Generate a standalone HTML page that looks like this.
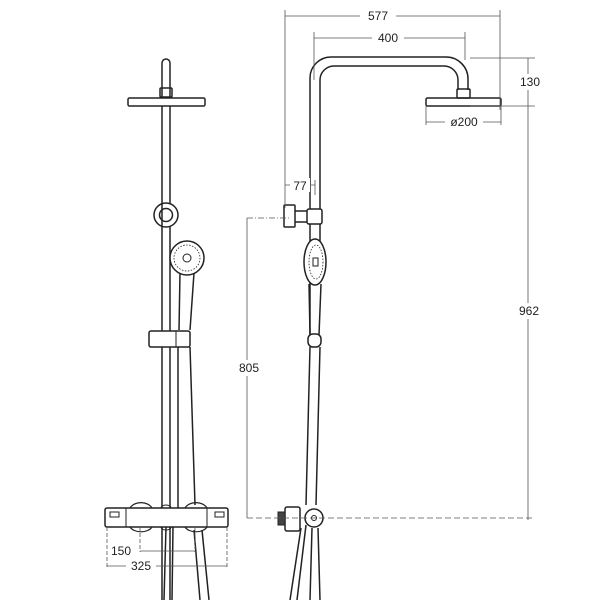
<!DOCTYPE html>
<html><head><style>html,body{margin:0;padding:0;background:#fff}svg{display:block}text{font-family:"Liberation Sans",sans-serif;font-size:12px;fill:#222}</style></head><body>
<svg width="600" height="600" viewBox="0 0 600 600" xmlns="http://www.w3.org/2000/svg">
<g fill="none" stroke="#222" stroke-width="1.5">
<path d="M162 98 V63 A4 4 0 0 1 170 63 V98"/>
<rect x="160" y="88" width="12" height="9" rx="1"/>
<rect x="128" y="98" width="77" height="8" rx="1.5"/>
<line x1="162" y1="106" x2="162" y2="600"/>
<line x1="170" y1="106" x2="170" y2="203"/>
<line x1="170" y1="227" x2="170" y2="600"/>
<circle cx="166" cy="215" r="12" fill="#fff"/>
<circle cx="166" cy="215" r="6.5"/>
<line x1="162" y1="203" x2="162" y2="227"/>
<circle cx="187" cy="258" r="17" fill="#fff"/>
<circle cx="187" cy="258" r="13" stroke-width="0.8" stroke-dasharray="1.5 1.5"/>
<circle cx="187" cy="258" r="4" stroke-width="1"/>
<path d="M180 273 L179 330 M194 273 L190 330"/>
<rect x="149" y="331" width="41" height="16" rx="2" fill="#fff"/>
<line x1="176" y1="331" x2="176" y2="347" stroke-width="1"/>
<path d="M178 347 V510 M190 347 Q192 420 195 505"/>
<path d="M166 527 L164 600 M173 527 L172 600"/>
<path d="M194 530 L200 600 M202 530 L209 600"/>
<rect x="105" y="508" width="123" height="19" rx="2" fill="#fff"/>
<line x1="126" y1="508" x2="126" y2="527" stroke-width="1"/>
<line x1="207" y1="508" x2="207" y2="527" stroke-width="1"/>
<path d="M130 508 A12 9 0 0 1 152 508 M130 527 A12 8 0 0 0 152 527" stroke-width="1.2"/>
<path d="M185 508 A12 9 0 0 1 207 508 M185 527 A12 8 0 0 0 207 527" stroke-width="1.2"/>
<path d="M161 508 A5 3 0 0 1 171 508 M161 527 A5 3 0 0 0 171 527" stroke-width="1"/>
<rect x="110" y="512" width="9" height="5" stroke-width="1"/>
<rect x="215" y="512" width="9" height="5" stroke-width="1"/>
<path d="M310 340 V78 A21 21 0 0 1 331 57 H446 A22 22 0 0 1 468 79 V90"/>
<path d="M320 210 V80 A14 14 0 0 1 334 66 H444 A14 14 0 0 1 458 80 V90"/>
<rect x="457" y="89" width="13" height="9" rx="1"/>
<rect x="426" y="98" width="75" height="8" rx="1.5"/>
<rect x="284" y="205" width="11" height="22" rx="1" fill="#fff"/>
<path d="M295 211 H308 M295 222 H308"/>
<rect x="307" y="209" width="15" height="15" rx="2" fill="#fff"/>
<line x1="320" y1="224" x2="320" y2="245"/>
<ellipse cx="315" cy="262" rx="11" ry="23" fill="#fff"/>
<ellipse cx="316" cy="262" rx="7" ry="17" stroke-width="0.8" stroke-dasharray="1.5 1.5"/>
<rect x="313" y="258" width="5" height="8" stroke-width="1"/>
<path d="M309 284 L310 335 M321 284 L319 335"/>
<rect x="308" y="334" width="13" height="13" rx="5" fill="#fff"/>
<path d="M310 347 L306 505 M320 347 L316 505"/>
<path d="M306 525 L297 600 M301 528 L290 600"/>
<path d="M312 528 L310 600 M318 528 L320 600"/>
<rect x="285" y="507" width="15" height="24" rx="2" fill="#fff"/>
<rect x="278" y="512" width="7" height="13" fill="#444" stroke-width="1"/>
<circle cx="314" cy="518" r="9" fill="#fff"/>
<circle cx="314" cy="518" r="2.5" stroke-width="1"/>
</g>
<g stroke="#555" stroke-width="0.8" fill="none">
<path d="M140 527 V552 M195 527 V552 M107 527 V568 M227 527 V568" stroke-dasharray="4 2"/>
<path d="M140 551 H195 M107 566 H227"/>
<path d="M285 16 H500 M314 38 H465 M285 10 V208 M500 10 V110 M314 32 V80 M465 32 V60"/>
<path d="M470 58 H535 M470 106 H535 M528 58 V520 M426 106 V125 M501 106 V125 M426 122 H501"/>
<path d="M285 185 H315 M315 180 V195"/>
<path d="M247 218 H290" stroke-dasharray="6 2 1 2"/>
<path d="M247 218 V518"/>
<path d="M247 518 H535" stroke-dasharray="6 3"/>
</g>
<g fill="#fff" stroke="none">
<rect x="360" y="9" width="36" height="14"/><rect x="372" y="31" width="32" height="14"/>
<rect x="516" y="74" width="28" height="16"/><rect x="515" y="303" width="28" height="16"/>
<rect x="235" y="360" width="28" height="16"/><rect x="445" y="115" width="38" height="14"/>
<rect x="290" y="178" width="20" height="14"/><rect x="108" y="544" width="26" height="14"/>
<rect x="126" y="559" width="30" height="14"/>
</g>
<text x="378" y="20" text-anchor="middle">577</text>
<text x="388" y="42" text-anchor="middle">400</text>
<text x="530" y="86" text-anchor="middle">130</text>
<text x="529" y="315" text-anchor="middle">962</text>
<text x="249" y="372" text-anchor="middle">805</text>
<text x="464" y="126" text-anchor="middle">ø200</text>
<text x="300" y="190" text-anchor="middle">77</text>
<text x="121" y="555" text-anchor="middle">150</text>
<text x="141" y="570" text-anchor="middle">325</text>
</svg>
</body></html>
